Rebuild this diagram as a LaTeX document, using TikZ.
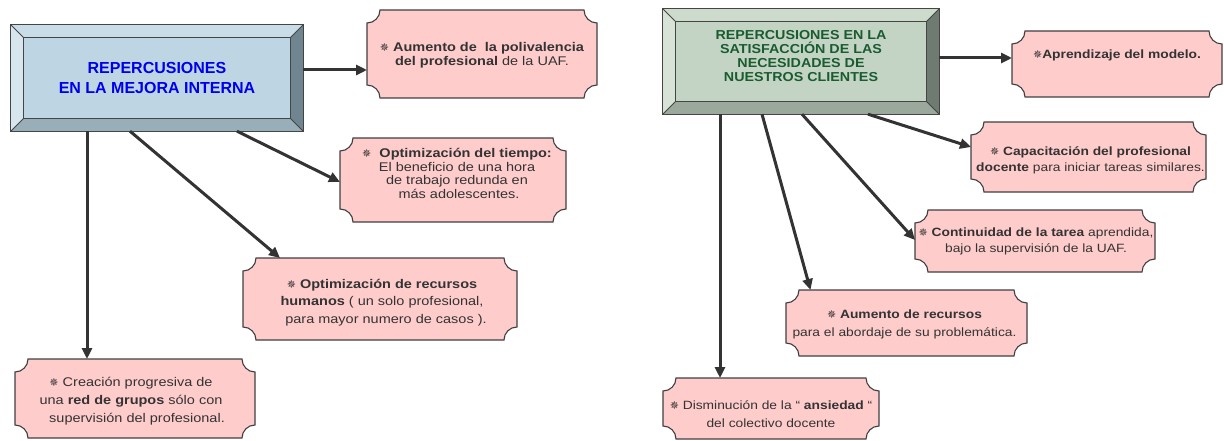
\documentclass[tikz,border=0pt]{standalone}
\usepackage{fontspec}
\setmainfont{Liberation Sans}
\newfontfamily\pfont[FakeStretch=1.15]{Liberation Sans}
\newfontfamily\hfontb[FakeStretch=1.1]{Liberation Sans}
\newfontfamily\symfont{DejaVu Sans}
\usetikzlibrary{arrows.meta,calc}
\definecolor{txtgray}{HTML}{333333}
\definecolor{pinkf}{HTML}{FFCCCC}
\definecolor{pinkd}{HTML}{404040}
\definecolor{linec}{HTML}{333333}
\definecolor{faceA}{HTML}{BED6E3}
\definecolor{topA}{HTML}{C9DDE9}
\definecolor{leftA}{HTML}{D7E6EE}
\definecolor{rightA}{HTML}{6F8590}
\definecolor{botA}{HTML}{98AEB8}
\definecolor{faceB}{HTML}{C3D4C4}
\definecolor{topB}{HTML}{CDDBCD}
\definecolor{leftB}{HTML}{D8E3D8}
\definecolor{rightB}{HTML}{6F7B70}
\definecolor{botB}{HTML}{9BA99C}
\definecolor{blueT}{HTML}{0000EE}
\definecolor{greenT}{HTML}{1A5C30}
\definecolor{bevl}{HTML}{454545}
\pgfdeclarelayer{background}
\pgfsetlayers{background,main}
\newcommand\flk{{\symfont\fontsize{11}{11}\selectfont ✵}}
\def\crad{13}
\def\bv{13}
\newcommand\pinkshape[1]{\filldraw[fill=pinkf,draw=pinkd,line width=1.1pt]
 ($(#1.north west)+(\crad,0)$) -- ($(#1.north east)+(-\crad,0)$)
 arc[start angle=180,end angle=270,radius=\crad] -- ($(#1.south east)+(0,\crad)$)
 arc[start angle=90,end angle=180,radius=\crad] -- ($(#1.south west)+(\crad,0)$)
 arc[start angle=0,end angle=90,radius=\crad] -- ($(#1.north west)+(0,-\crad)$)
 arc[start angle=270,end angle=360,radius=\crad] -- cycle;}
\newcommand\bevelbox[6]{%
 \fill[#3] (#1.north west) -- (#1.north east) -- ([shift={(-\bv,-\bv)}]#1.north east) -- ([shift={(\bv,-\bv)}]#1.north west) -- cycle;
 \fill[#4] (#1.north west) -- ([shift={(\bv,-\bv)}]#1.north west) -- ([shift={(\bv,\bv)}]#1.south west) -- (#1.south west) -- cycle;
 \fill[#5] (#1.north east) -- (#1.south east) -- ([shift={(-\bv,\bv)}]#1.south east) -- ([shift={(-\bv,-\bv)}]#1.north east) -- cycle;
 \fill[#6] (#1.south west) -- (#1.south east) -- ([shift={(-\bv,\bv)}]#1.south east) -- ([shift={(\bv,\bv)}]#1.south west) -- cycle;
 \fill[#2] ([shift={(\bv,-\bv)}]#1.north west) rectangle ([shift={(-\bv,\bv)}]#1.south east);
 \draw[bevline] (#1.north west) rectangle (#1.south east);
 \draw[bevline] ([shift={(\bv,-\bv)}]#1.north west) rectangle ([shift={(-\bv,\bv)}]#1.south east);
 \draw[bevline] (#1.north west) -- ([shift={(\bv,-\bv)}]#1.north west)
   (#1.north east) -- ([shift={(-\bv,-\bv)}]#1.north east)
   (#1.south west) -- ([shift={(\bv,\bv)}]#1.south west)
   (#1.south east) -- ([shift={(-\bv,\bv)}]#1.south east);}
\tikzset{
 bevline/.style={draw=bevl,line width=1pt},
 pbox/.style={minimum width=#1,inner sep=0pt,outer sep=0pt,rectangle},
 ptext/.style={font=\pfont\fontsize{12.6}{#1}\selectfont,align=center,text=txtgray,inner sep=0pt},
 qtext/.style={font=\pfont\fontsize{12}{#1}\selectfont,align=center,text=txtgray,inner sep=0pt},
 conn/.style={draw=linec,line width=3pt,-{Triangle[length=11pt,width=10pt]},shorten <=0pt},
}
\begin{document}
\begin{tikzpicture}[x=1pt,y=1pt]
\useasboundingbox (0,0) rectangle (1224,-441);
% headers
\node[rectangle,inner sep=0pt,minimum width=292pt,minimum height=106pt,align=center,
  font=\bfseries\fontsize{16}{20}\selectfont,text=blueT] (h1) at (157,-78)
  {REPERCUSIONES\\EN LA MEJORA INTERNA};
\node[rectangle,inner sep=0pt,minimum width=276pt,minimum height=105pt,
  label={[align=center,font=\hfontb\bfseries\fontsize{13}{14}\selectfont,text=greenT,yshift=5.5pt,inner sep=0pt]center:{REPERCUSIONES EN LA\\SATISFACCIÓN DE LAS\\NECESIDADES DE\\ NUESTROS CLIENTES}}]
  (h2) at (801,-61.5) {};
% pink boxes
\node[pbox=230pt,minimum height=88pt,label={[ptext=14,yshift=-1pt]center:{\flk\ \textbf{Aumento de \ la polivalencia}\\ \textbf{del profesional} de la UAF.}}] (A) at (482,-54) {};
\node[pbox=226pt,minimum height=84pt,label={[ptext=13.5,yshift=6.5pt,xshift=4pt]center:{\flk\ \ \textbf{Optimización del tiempo:}\\El beneficio de una hora\\de trabajo redunda en\\\ más adolescentes.}}] (B) at (453,-180) {};
\node[pbox=274pt,minimum height=82pt,label={[ptext=17.5,yshift=-3.5pt,xshift=2pt]center:{\flk\ \textbf{Optimización de recursos}\\\textbf{humanos} ( un solo profesional,\\\ \ para mayor numero de casos ).}}] (C) at (380,-299) {};
\node[pbox=240pt,minimum height=79pt,label={[ptext=18,yshift=-2.5pt,xshift=-4pt]center:{\flk\ Creación progresiva de\\una \textbf{red de grupos} sólo con\\\ \ \ supervisión del profesional.}}] (D) at (135,-398.5) {};
\node[pbox=210pt,minimum height=66pt,label={[qtext=14,yshift=9pt]center:{\flk\textbf{Aprendizaje del modelo.}}}] (E) at (1117,-64) {};
\node[pbox=235pt,minimum height=70pt,label={[qtext=16,yshift=-3pt,xshift=2pt]center:{\flk\ \textbf{Capacitación del profesional}\\\textbf{docente} para iniciar tareas similares.}}] (F) at (1088.5,-157) {};
\node[pbox=240pt,minimum height=62pt,label={[qtext=16,xshift=1pt]center:{\flk\ \textbf{Continuidad de la tarea} aprendida,\\bajo la supervisión de la UAF.}}] (G) at (1035,-241) {};
\node[pbox=241pt,minimum height=66pt,label={[qtext=18,yshift=-1pt,xshift=-2pt]center:{\flk\ \textbf{Aumento de recursos}\\para el abordaje de su problemática.}}] (H) at (906.5,-323) {};
\node[pbox=216pt,minimum height=61pt,label={[qtext=18,yshift=-5.5pt]center:{\flk\ Disminución de la “ \textbf{ansiedad} “\\del colectivo docente}}] (I) at (771,-408.5) {};
\begin{pgfonlayer}{background}
\bevelbox{h1}{faceA}{topA}{leftA}{rightA}{botA}
\bevelbox{h2}{faceB}{topB}{leftB}{rightB}{botB}
\foreach \n in {A,B,C,D,E,F,G,H,I}{\pinkshape{\n}}
\end{pgfonlayer}
% connectors
\draw[conn] ([yshift=8pt]h1.east) -- ([yshift=-16pt]A.west);
\draw[conn] ([xshift=80pt]h1.south) -- ([yshift=-2pt]B.west);
\draw[conn] ([xshift=-27pt]h1.south) -- ([xshift=-100pt]C.north);
\draw[conn] ([xshift=-70pt]h1.south) -- ([xshift=-48pt]D.north);
\draw[conn] ([yshift=3.5pt]h2.east) -- ([yshift=6pt]E.west);
\draw[conn] ([xshift=67pt]h2.south) -- ([yshift=10pt]F.west);
\draw[conn] ([xshift=1pt]h2.south) -- ([yshift=1pt]G.west);
\draw[conn] ([xshift=-39pt]h2.south) -- ([xshift=-96pt]H.north);
\draw[conn] ([xshift=-81pt]h2.south) -- ([xshift=-51pt]I.north);
\end{tikzpicture}
\end{document}
